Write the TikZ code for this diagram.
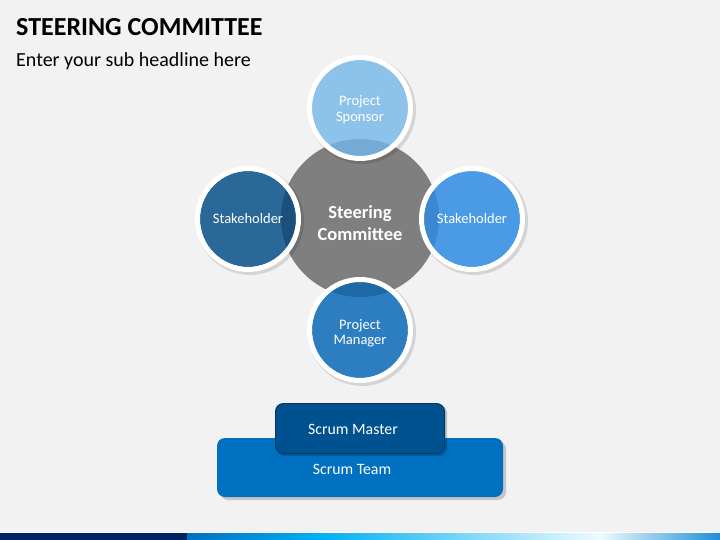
\documentclass[tikz,border=0pt]{standalone}
\usepackage{fontspec}
\setmainfont{Carlito}
\definecolor{bg}{HTML}{F2F2F2}
\definecolor{gcore}{HTML}{7F7F7F}
\definecolor{psC}{HTML}{8DC2EA}\definecolor{psD}{HTML}{76ABD6}
\definecolor{slC}{HTML}{2A6898}\definecolor{slD}{HTML}{1B4F7C}
\definecolor{srC}{HTML}{4A9AE5}\definecolor{srD}{HTML}{3B87D0}
\definecolor{pmC}{HTML}{2C7EC1}\definecolor{pmD}{HTML}{1F68A8}
\definecolor{smC}{HTML}{00518F}\definecolor{smB}{HTML}{003A68}
\definecolor{stC}{HTML}{0070C0}
\definecolor{navy}{HTML}{002060}
\tikzset{
  role/.style={circle, minimum size=96pt, inner sep=0pt, text=white, align=center,
    font=\fontsize{14.5}{15.5}\selectfont},
  ring/.style={draw=white, line width=5pt},
  shad/.style={fill=black, opacity=0.12},
}
\begin{document}
\begin{tikzpicture}[x=1pt,y=-1pt]
\useasboundingbox (0,0) rectangle (720,540);
\fill[bg] (0,0) rectangle (720,540);
% titles
\node[anchor=base west, inner sep=0pt, font=\fontsize{26}{30}\selectfont\bfseries] (title) at (16,36) {STEERING COMMITTEE};
\node[anchor=base west, inner sep=0pt, font=\fontsize{20}{24}\selectfont] (sub) at (16,67) {Enter your sub headline here};
% central circle
\fill[gcore] (360,218) circle (79pt);
\node[circle, minimum size=158pt, inner sep=0pt] (sc) at (360,218) {};
% shadows
\foreach \p in {(362,110),(250,221),(474,221),(362,332)}
  \fill[shad] \p circle (54pt);
% role circles
\node[role, fill=psC] (ps) at (360,108) {};
\node[role, fill=slC] (sl) at (248,219) {};
\node[role, fill=srC] (sr) at (472,219) {};
\node[role, fill=pmC] (pm) at (360,330) {};
\begin{scope}
  \clip (sc.center) circle (79pt);
  \fill[psD] (ps.center) circle (48pt);
  \fill[slD] (sl.center) circle (48pt);
  \fill[srD] (sr.center) circle (48pt);
  \fill[pmD] (pm.center) circle (48pt);
\end{scope}
\foreach \n in {ps,sl,sr,pm}
  \draw[ring] (\n.center) circle (50.5pt);
\node[text=white, align=center, font=\fontsize{18.5}{21.5}\selectfont\bfseries] at (360,223) {Steering\\Committee};
\node[role, yshift=-1.5pt] at (ps.center) {Project\\Sponsor};
\node[role] at (sl.center) {Stakeholder};
\node[role] at (sr.center) {Stakeholder};
\node[role, yshift=-3.5pt] at (pm.center) {Project\\Manager};
% scrum boxes
\fill[black, opacity=0.18, rounded corners=8pt] (220,441) rectangle (506,500);
\node[fill=stC, rounded corners=8pt, minimum width=286pt, minimum height=59pt, inner sep=0pt] (st) at (360,467.5) {};
\node[text=white, font=\fontsize{15.8}{18}\selectfont] at (352,469) {Scrum Team};
\fill[black, opacity=0.2, rounded corners=8pt] (277,405) rectangle (447,456);
\node[fill=smC, draw=smB, line width=1pt, rounded corners=8pt, minimum width=169pt, minimum height=50pt, inner sep=0pt] (sm) at (360,428.5) {};
\node[text=white, font=\fontsize{15.8}{18}\selectfont] at (353,429) {Scrum Master};
% bottom bar
\fill[white] (0,531.5) rectangle (720,533);
\fill[navy] (0,533) rectangle (187,540);
\shade[left color={stC}, right color={rgb,255:red,0;green,176;blue,240}] (187,533) rectangle (320,540);
\shade[left color={rgb,255:red,0;green,176;blue,240}, right color={rgb,255:red,240;green,250;blue,255}] (320,533) rectangle (600,540);
\shade[left color={rgb,255:red,240;green,250;blue,255}, right color={rgb,255:red,30;green,143;blue,214}] (600,533) rectangle (720,540);
\end{tikzpicture}
\end{document}
